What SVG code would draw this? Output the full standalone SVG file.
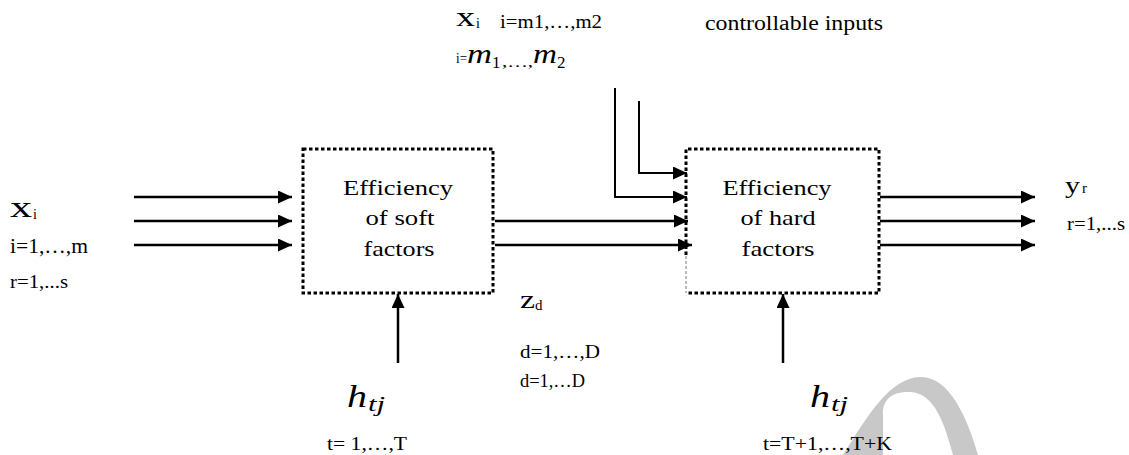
<svg xmlns="http://www.w3.org/2000/svg" width="1129" height="455" viewBox="0 0 1129 455" font-family="'Liberation Serif', Tinos, 'Times New Roman', Times, serif">
<style>
text{font-family:'Liberation Serif',Tinos,'Times New Roman',Times,serif;fill:#000}
.it{font-style:italic}
.box{fill:none;stroke:#000;stroke-width:3;stroke-dasharray:3.5 2.5}
.ln{fill:none;stroke:#000;stroke-width:2.5}
.el{fill:none;stroke:#000;stroke-width:2}
.lbl{font-size:22px}
</style>
<defs>
<marker id="ah" markerUnits="userSpaceOnUse" markerWidth="15" markerHeight="14" refX="14" refY="6.5" orient="auto">
<path d="M0,0 L14,6.5 L0,13 z" fill="#000"/>
</marker>
</defs>
<rect width="1129" height="455" fill="#fff"/>
<path id="watermark" d="M843,455 C868,415 890,378 920,377 C950,376 968,420 978,455 L953,455 C945,425 935,393 910,392 C892,391 882,400 883,415 L883,455 Z" fill="#c8c8c8"/>
<g id="soft">
<rect class="box" x="303" y="149" width="190" height="144"/>
<text class="lbl" x="398" y="195" text-anchor="middle" textLength="110" lengthAdjust="spacingAndGlyphs">Efficiency</text>
<text class="lbl" x="400" y="225" text-anchor="middle" textLength="69" lengthAdjust="spacingAndGlyphs">of soft</text>
<text class="lbl" x="399" y="256" text-anchor="middle" textLength="71" lengthAdjust="spacingAndGlyphs">factors</text>
</g>
<g id="hard">
<path class="box" d="M686,255 L686,149 L879,149 L879,293 L686,293"/>
<path d="M686,256 L686,293" fill="none" stroke="#777" stroke-width="1" stroke-dasharray="3 2"/>
<text class="lbl" x="777" y="195" text-anchor="middle" textLength="109" lengthAdjust="spacingAndGlyphs">Efficiency</text>
<text class="lbl" x="778" y="225" text-anchor="middle" textLength="75" lengthAdjust="spacingAndGlyphs">of hard</text>
<text class="lbl" x="778" y="256" text-anchor="middle" textLength="73" lengthAdjust="spacingAndGlyphs">factors</text>
</g>
<g id="connectors">
<line class="ln" x1="134" y1="197" x2="292" y2="197" marker-end="url(#ah)"/>
<line class="ln" x1="134" y1="221" x2="292" y2="221" marker-end="url(#ah)"/>
<line class="ln" x1="134" y1="245" x2="292" y2="245" marker-end="url(#ah)"/>
<line class="ln" x1="495" y1="221" x2="688" y2="221" marker-end="url(#ah)"/>
<line class="ln" x1="495" y1="245" x2="692" y2="245" marker-end="url(#ah)"/>
<path class="el" d="M639,101 L639,173 L687,173" marker-end="url(#ah)"/>
<path class="el" d="M615,88 L615,197 L687,197" marker-end="url(#ah)"/>
<line class="ln" x1="880" y1="197" x2="1035" y2="197" marker-end="url(#ah)"/>
<line class="ln" x1="880" y1="221" x2="1035" y2="221" marker-end="url(#ah)"/>
<line class="ln" x1="880" y1="245" x2="1035" y2="245" marker-end="url(#ah)"/>
<line class="ln" x1="398" y1="363" x2="398" y2="294" marker-end="url(#ah)"/>
<line class="ln" x1="783" y1="363" x2="783" y2="294" marker-end="url(#ah)"/>
</g>
<g id="input-x">
<text x="10" y="217" font-size="30" textLength="22" lengthAdjust="spacingAndGlyphs">x</text>
<text x="33" y="219" font-size="14">i</text>
<text x="10" y="253" font-size="20" textLength="78" lengthAdjust="spacingAndGlyphs">i=1,…,m</text>
<text x="10" y="288" font-size="18" textLength="58" lengthAdjust="spacingAndGlyphs">r=1,...s</text>
</g>
<g id="controllable">
<text x="456" y="26" font-size="28" textLength="19" lengthAdjust="spacingAndGlyphs">x</text>
<text x="476" y="28" font-size="14">i</text>
<text x="500" y="28" font-size="18" textLength="102" lengthAdjust="spacingAndGlyphs">i=m1,…,m2</text>
<text x="456" y="63" font-size="14" textLength="11" lengthAdjust="spacingAndGlyphs">i=</text>
<text class="it" x="467" y="63" font-size="27" textLength="25" lengthAdjust="spacingAndGlyphs">m</text>
<text x="492" y="68" font-size="17">1</text>
<text x="502" y="67" font-size="14" textLength="31" lengthAdjust="spacingAndGlyphs">,…,</text>
<text class="it" x="533" y="63" font-size="27" textLength="24" lengthAdjust="spacingAndGlyphs">m</text>
<text x="557" y="68" font-size="17">2</text>
<text x="705" y="30" font-size="20" textLength="178" lengthAdjust="spacingAndGlyphs">controllable inputs</text>
</g>
<g id="output-y">
<text x="1065" y="193" font-size="24" textLength="15" lengthAdjust="spacingAndGlyphs">y</text>
<text x="1082" y="193" font-size="15">r</text>
<text x="1067" y="230" font-size="18" textLength="58" lengthAdjust="spacingAndGlyphs">r=1,...s</text>
</g>
<g id="intermediate-z">
<text x="520" y="308" font-size="25" textLength="15" lengthAdjust="spacingAndGlyphs">z</text>
<text x="535" y="310" font-size="15">d</text>
<text x="520" y="358" font-size="19" textLength="80" lengthAdjust="spacingAndGlyphs">d=1,…,D</text>
<text x="520" y="387" font-size="19" textLength="65" lengthAdjust="spacingAndGlyphs">d=1,…D</text>
</g>
<g id="h-soft">
<text class="it" x="347" y="407" font-size="32" textLength="20" lengthAdjust="spacingAndGlyphs">h</text>
<text class="it" x="368" y="411" font-size="20" textLength="17" lengthAdjust="spacingAndGlyphs">tj</text>
<text x="327" y="450" font-size="18" textLength="80" lengthAdjust="spacingAndGlyphs">t= 1,…,T</text>
</g>
<g id="h-hard">
<text class="it" x="810" y="407" font-size="32" textLength="20" lengthAdjust="spacingAndGlyphs">h</text>
<text class="it" x="831" y="411" font-size="20" textLength="17" lengthAdjust="spacingAndGlyphs">tj</text>
<text x="763" y="450" font-size="18" textLength="129" lengthAdjust="spacingAndGlyphs">t=T+1,…,T+K</text>
</g>
</svg>
